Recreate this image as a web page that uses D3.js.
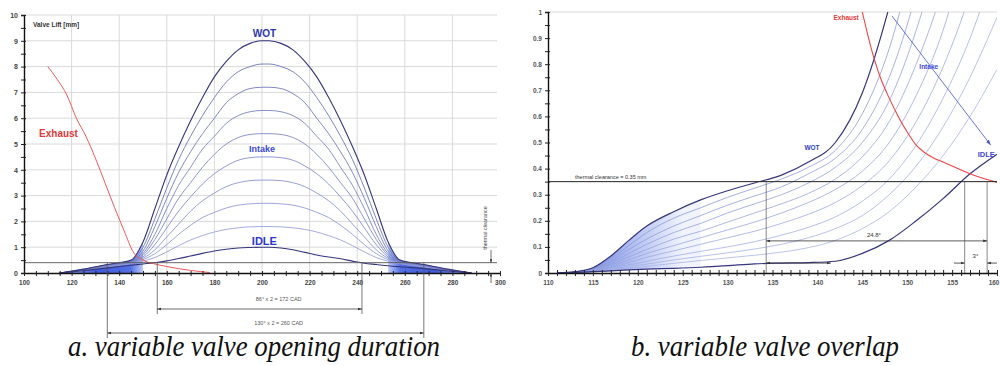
<!DOCTYPE html>
<html><head><meta charset="utf-8">
<script src="https://cdn.jsdelivr.net/npm/d3@7"></script>
<style>body{margin:0;background:#fff} svg{display:block} text.s{font-family:Arial,"Liberation Sans",sans-serif} text.cap{font-family:"Liberation Serif","Times New Roman",serif;font-style:italic}</style>
</head><body><svg id="c" width="1000" height="366"></svg>
<script>
// ---------- LEFT CHART DATA (a. variable valve opening duration) ----------
const leftAngles = [115,125,135,145,150,155,160,165,170,175,180,185,190,195,200,203,208,213,218,223,228,233,238,243,248,253,258,268,278,288];
const liftWOT  = [0,0.15,0.33,0.5,1.2,2.5,3.8,4.9,5.9,6.8,7.6,8.2,8.65,8.9,9.0, 9.0,8.9,8.65,8.2,7.6,6.8,5.9,4.9,3.8,2.5,1.2,0.5,0.33,0.15,0];
const liftC2   = [0,0.14,0.32,0.48,1.0,2.1,3.3,4.4,5.3,6.1,6.8,7.4,7.8,8.0,8.1, 8.1,8.0,7.8,7.4,6.8,6.1,5.3,4.4,3.3,2.1,1.0,0.48,0.32,0.14,0];
const liftC3   = [0,0.13,0.31,0.46,0.85,1.8,2.9,3.9,4.7,5.4,6.0,6.6,6.95,7.15,7.2, 7.2,7.15,6.95,6.6,6.0,5.4,4.7,3.9,2.9,1.8,0.85,0.46,0.31,0.13,0];
const liftC4   = [0,0.12,0.3,0.44,0.75,1.5,2.5,3.4,4.1,4.8,5.3,5.8,6.1,6.25,6.3, 6.3,6.25,6.1,5.8,5.3,4.8,4.1,3.4,2.5,1.5,0.75,0.44,0.3,0.12,0];
const liftC5   = [0,0.12,0.29,0.43,0.68,1.3,2.1,2.9,3.5,4.1,4.6,5.0,5.25,5.37,5.4, 5.4,5.37,5.25,5.0,4.6,4.1,3.5,2.9,2.1,1.3,0.68,0.43,0.29,0.12,0];
const liftC6   = [0,0.11,0.28,0.42,0.62,1.1,1.75,2.4,2.95,3.45,3.85,4.15,4.37,4.47,4.5, 4.5,4.47,4.37,4.15,3.85,3.45,2.95,2.4,1.75,1.1,0.62,0.42,0.28,0.11,0];
const liftC7   = [0,0.1,0.27,0.41,0.57,0.9,1.4,1.9,2.4,2.8,3.1,3.35,3.5,3.58,3.6, 3.6,3.58,3.5,3.35,3.1,2.8,2.4,1.9,1.4,0.9,0.57,0.41,0.27,0.1,0];
const liftC8   = [0,0.1,0.25,0.39,0.52,0.75,1.1,1.5,1.85,2.15,2.35,2.52,2.63,2.68,2.7, 2.7,2.68,2.63,2.52,2.35,2.15,1.85,1.5,1.1,0.75,0.52,0.39,0.25,0.1,0];
const liftC9   = [0,0.1,0.23,0.36,0.46,0.6,0.82,1.06,1.28,1.45,1.59,1.69,1.75,1.79,1.8, 1.8,1.79,1.75,1.69,1.59,1.45,1.28,1.06,0.82,0.6,0.46,0.36,0.23,0.1,0];
const liftIDLE = [0,0.09,0.2,0.3,0.35,0.4,0.47,0.56,0.66,0.76,0.85,0.92,0.97,0.99,1.0, 1.0,0.97,0.9,0.8,0.7,0.62,0.55,0.46,0.38,0.33,0.28,0.24,0.17,0.08,0];
const exhaustLeftAngles = [110,114,118,122,126,130,134,138,142,146,150,155,160,170,178];
const exhaustLeftLift   = [8.0,7.5,6.9,6.0,5.3,4.45,3.5,2.55,1.65,0.8,0.5,0.35,0.25,0.1,0.02];
const leftXTicks = [100,120,140,160,180,200,220,240,260,280,300];
const leftYTicks = [0,1,2,3,4,5,6,7,8,9,10];
const leftClearance = 0.4;
const leftDimWOT = [135,268];
const leftDimIDLE = [156,242];

// ---------- RIGHT CHART DATA (b. variable valve overlap) ----------
const rightAngles = [111,113,115,117,119,121,124,127,130,133,136,139,142,145,148,151,154,157,160];
const rWOT  = [0,0.005,0.02,0.065,0.125,0.18,0.235,0.28,0.315,0.345,0.375,0.425,0.5,0.69,1.02,1.45,1.9,2.4,2.9];
const rI1   = [0,0.004,0.017,0.055,0.105,0.155,0.21,0.25,0.29,0.325,0.36,0.405,0.47,0.61,0.86,1.25,1.7,2.2,2.7];
const rI2   = [0,0.004,0.015,0.045,0.09,0.13,0.18,0.22,0.26,0.295,0.33,0.38,0.44,0.55,0.75,1.07,1.5,2.0,2.5];
const rI3   = [0,0.003,0.013,0.038,0.075,0.11,0.155,0.19,0.23,0.265,0.3,0.345,0.405,0.5,0.66,0.93,1.3,1.8,2.3];
const rI4   = [0,0.003,0.011,0.032,0.062,0.09,0.13,0.16,0.195,0.23,0.265,0.305,0.36,0.445,0.58,0.8,1.1,1.55,2.0];
const rI5   = [0,0.002,0.009,0.026,0.05,0.075,0.105,0.135,0.165,0.195,0.23,0.27,0.32,0.39,0.5,0.68,0.93,1.3,1.7];
const rI6   = [0,0.002,0.007,0.02,0.04,0.06,0.085,0.11,0.135,0.16,0.19,0.225,0.27,0.335,0.43,0.58,0.79,1.07,1.45];
const rI7   = [0,0.002,0.006,0.015,0.03,0.045,0.065,0.083,0.1,0.12,0.145,0.175,0.215,0.275,0.36,0.49,0.67,0.9,1.2];
const rI8   = [0,0.001,0.005,0.012,0.022,0.034,0.05,0.064,0.077,0.092,0.11,0.135,0.17,0.22,0.3,0.41,0.56,0.75,0.98];
const rI9   = [0,0.001,0.004,0.009,0.016,0.025,0.037,0.048,0.058,0.068,0.08,0.097,0.125,0.17,0.235,0.33,0.45,0.6,0.78];
const rIDLE = [0,0.002,0.005,0.008,0.012,0.015,0.018,0.022,0.028,0.035,0.038,0.04,0.045,0.075,0.125,0.2,0.285,0.38,0.455];
const exhaustRightAngles = [145,146,147,148,149,150,151,152,153,154,155,156,157,158,159,160];
const exhaustRightLift   = [1.0,0.86,0.75,0.67,0.6,0.54,0.49,0.46,0.44,0.425,0.41,0.395,0.38,0.368,0.357,0.347];
const rightXTicks = [110,115,120,125,130,135,140,145,150,155,160];
const rightYTicks = [0,0.1,0.2,0.3,0.4,0.5,0.6,0.7,0.8,0.9,1];
const rightClearance = 0.35;
const rightDims = [134.3,156.4,158.9];

// ---------- DRAW ----------
const svg = d3.select('#c');
const defs = svg.append('defs');
defs.append('marker').attr('id','arr').attr('viewBox','0 0 6 4').attr('refX',6).attr('refY',2)
  .attr('markerWidth',5).attr('markerHeight',4).attr('orient','auto-start-reverse')
  .append('path').attr('d','M0,0L6,2L0,4z').attr('fill','#333');
defs.append('marker').attr('id','arrB').attr('viewBox','0 0 6 4').attr('refX',6).attr('refY',2)
  .attr('markerWidth',6).attr('markerHeight',5).attr('orient','auto')
  .append('path').attr('d','M0,0L6,2L0,4z').attr('fill','#4455cc');

const xL = d3.scaleLinear().domain([100,300]).range([24,500]);
const yL = d3.scaleLinear().domain([0,10]).range([273,15]);
const xR = d3.scaleLinear().domain([110,160]).range([548,997]);
const yR = d3.scaleLinear().domain([0,1]).range([273,12]);

defs.append('clipPath').attr('id','clipL').append('rect').attr('x',24).attr('y',15).attr('width',473).attr('height',258);
defs.append('clipPath').attr('id','clipR').append('rect').attr('x',548).attr('y',12).attr('width',449).attr('height',261);

function grad(id,x1,x2,stops){
  const g=defs.append('linearGradient').attr('id',id).attr('gradientUnits','userSpaceOnUse')
    .attr('x1',x1).attr('x2',x2).attr('y1',0).attr('y2',0);
  stops.forEach(([o,c])=>g.append('stop').attr('offset',o).attr('stop-color',c));
}
const lStops=[[0,'#8fa2ee'],[0.45,'#2a48d8'],[0.85,'#3f5fe0'],[1,'#b8c6f6']];
grad('gL',xL(115),xL(150),lStops);
grad('gL2',xL(288),xL(253),lStops);
grad('gR',xR(112),xR(125),[[0,'#2040c8'],[0.35,'#7e94e8'],[1,'#eef1fc']]);

function txt(g,x,y,s,o){
  const t=g.append('text').attr('class','s').attr('x',x).attr('y',y).text(s);
  Object.entries(o||{}).forEach(([k,v])=>t.attr(k,v)); return t;
}

// ===== LEFT =====
const gL = svg.append('g');
gL.append('g').selectAll('line').data(d3.range(1,11)).join('line')
  .attr('x1',xL(100)).attr('x2',497).attr('y1',d=>yL(d)).attr('y2',d=>yL(d)).attr('stroke','#d9d9d9');
gL.append('g').selectAll('line').data(leftXTicks.slice(1,-1)).join('line')
  .attr('x1',d=>xL(d)).attr('x2',d=>xL(d)).attr('y1',yL(10)).attr('y2',yL(0)).attr('stroke','#d9d9d9');

const series = (ang, vals) => ang.map((a,i)=>[a,vals[i]]);
const lineL = d3.line().x(d=>xL(d[0])).y(d=>yL(d[1])).curve(d3.curveMonotoneX);
const plotL = gL.append('g').attr('clip-path','url(#clipL)');

const wotPts = series(leftAngles, liftWOT);
const areaL = d3.area().x(d=>xL(d[0])).y0(yL(0)).y1(d=>yL(d[1])).curve(d3.curveMonotoneX);
plotL.append('path').datum(wotPts.filter(d=>d[0]<=150)).attr('d',areaL).attr('fill','url(#gL)').attr('opacity',0.9);
plotL.append('path').datum(wotPts.filter(d=>d[0]>=253)).attr('d',areaL).attr('fill','url(#gL2)').attr('opacity',0.9);

const midL = [liftC9,liftC8,liftC7,liftC6,liftC5,liftC4,liftC3,liftC2];
midL.forEach((v,i)=>{
  plotL.append('path').datum(series(leftAngles,v)).attr('d',lineL).attr('fill','none')
    .attr('stroke', d3.interpolateRgb('#98a2dc','#6c76b8')(i/7)).attr('stroke-width',0.9);
});
[liftWOT,liftIDLE].forEach(v=>{
  plotL.append('path').datum(series(leftAngles,v)).attr('d',lineL).attr('fill','none')
    .attr('stroke','#35357c').attr('stroke-width',1.1);
});
plotL.append('path').datum(series(exhaustLeftAngles,exhaustLeftLift)).attr('d',lineL).attr('fill','none')
  .attr('stroke','#ee5a5a').attr('stroke-width',1);
gL.append('line').attr('x1',xL(100)).attr('x2',497).attr('y1',yL(leftClearance)).attr('y2',yL(leftClearance))
  .attr('stroke','#555').attr('stroke-width',0.9);

const axLy = gL.append('g').attr('transform',`translate(${xL(100)},0)`)
  .call(d3.axisLeft(yL).tickValues(d3.range(0,10.01,0.5)).tickSize(3).tickFormat(d=>leftYTicks.includes(d)?d:''));
axLy.selectAll('.tick line').attr('x1',2).attr('stroke','#222');
axLy.select('.domain').attr('stroke','#111').attr('stroke-width',1.4);
axLy.selectAll('text').attr('class','s').attr('font-size',7).attr('font-weight','bold').attr('fill','#444').attr('x',-6);
const axLx = gL.append('g').attr('transform',`translate(0,${yL(0)})`)
  .call(d3.axisBottom(xL).tickValues(d3.range(100,300.1,5)).tickSize(3).tickSizeOuter(0).tickFormat(d=>leftXTicks.includes(d)?d:''));
axLx.selectAll('.tick line').attr('y1',-2).attr('stroke','#222');
axLx.select('.domain').attr('stroke','#111').attr('stroke-width',1.6);
axLx.selectAll('text').attr('class','s').attr('font-size',6.5).attr('font-weight','bold').attr('fill','#444').attr('dy','0.9em');

txt(gL,33,27,'Valve Lift [mm]',{'font-size':6.5,'font-weight':'bold',fill:'#333'});
txt(gL,xL(201),37,'WOT',{'font-size':10,'font-weight':'bold',fill:'#2a36b0','text-anchor':'middle'});
txt(gL,xL(200),152,'Intake',{'font-size':9,'font-weight':'bold',fill:'#3a48d0','text-anchor':'middle'});
txt(gL,xL(201),245,'IDLE',{'font-size':11,'font-weight':'bold',fill:'#2a36c8','text-anchor':'middle'});
txt(gL,xL(114.5),137,'Exhaust',{'font-size':10,'font-weight':'bold',fill:'#e03a3a','text-anchor':'middle'});
txt(gL,0,0,'thermal clearance',{'font-size':5.5,fill:'#444','text-anchor':'middle',
  transform:`translate(487,228) rotate(-90)`});
gL.append('line').attr('x1',491).attr('x2',491).attr('y1',250).attr('y2',yL(leftClearance)).attr('stroke','#333').attr('stroke-width',0.7).attr('marker-end','url(#arr)');
gL.append('line').attr('x1',491).attr('x2',491).attr('y1',283).attr('y2',yL(0)).attr('stroke','#333').attr('stroke-width',0.7).attr('marker-end','url(#arr)');

leftDimWOT.forEach(a=>gL.append('line').attr('x1',xL(a)).attr('x2',xL(a)).attr('y1',yL(leftClearance)).attr('y2',338).attr('stroke','#555').attr('stroke-width',0.8));
leftDimIDLE.forEach(a=>gL.append('line').attr('x1',xL(a)).attr('x2',xL(a)).attr('y1',yL(leftClearance)).attr('y2',314).attr('stroke','#555').attr('stroke-width',0.8));
gL.append('line').attr('x1',xL(leftDimIDLE[0])).attr('x2',xL(leftDimIDLE[1])).attr('y1',309).attr('y2',309)
  .attr('stroke','#444').attr('stroke-width',0.8).attr('marker-start','url(#arr)').attr('marker-end','url(#arr)');
gL.append('line').attr('x1',xL(leftDimWOT[0])).attr('x2',xL(leftDimWOT[1])).attr('y1',333).attr('y2',333)
  .attr('stroke','#444').attr('stroke-width',0.8).attr('marker-start','url(#arr)').attr('marker-end','url(#arr)');
txt(gL,xL(207),301,'86° x 2 = 172 CAD',{'font-size':5.5,fill:'#555','text-anchor':'middle'});
txt(gL,xL(207),325,'130° x 2 = 260 CAD',{'font-size':5.5,fill:'#555','text-anchor':'middle'});

// ===== RIGHT =====
const gR = svg.append('g');
gR.append('line').attr('x1',xR(110)).attr('x2',xR(160)).attr('y1',yR(1)).attr('y2',yR(1)).attr('stroke','#d9d9d9');
const lineR = d3.line().x(d=>xR(d[0])).y(d=>yR(d[1])).curve(d3.curveMonotoneX);
const plotR = gR.append('g').attr('clip-path','url(#clipR)');
const fillPts = rightAngles.map((a,i)=>[a,rWOT[i],rIDLE[i]]).filter(d=>d[0]<=127);
plotR.append('path').datum(fillPts)
  .attr('d',d3.area().x(d=>xR(d[0])).y0(d=>yR(d[2])).y1(d=>yR(d[1])).curve(d3.curveMonotoneX))
  .attr('fill','url(#gR)').attr('opacity',0.85);
const midR=[rI9,rI8,rI7,rI6,rI5,rI4,rI3,rI2,rI1];
midR.forEach((v,i)=>{
  plotR.append('path').datum(series(rightAngles,v)).attr('d',lineR).attr('fill','none')
    .attr('stroke',d3.interpolateRgb('#aab4e6','#8e9ad8')(i/8)).attr('stroke-width',0.8);
});
[rWOT,rIDLE].forEach(v=>{
  plotR.append('path').datum(series(rightAngles,v)).attr('d',lineR).attr('fill','none')
    .attr('stroke','#35357c').attr('stroke-width',1.2);
});
plotR.append('path').datum(series(exhaustRightAngles,exhaustRightLift)).attr('d',lineR).attr('fill','none')
  .attr('stroke','#ee4444').attr('stroke-width',1.1);
gR.append('line').attr('x1',xR(110)).attr('x2',xR(160)).attr('y1',yR(rightClearance)).attr('y2',yR(rightClearance))
  .attr('stroke','#222').attr('stroke-width',1);
txt(gR,575,179,'thermal clearance = 0.35 mm',{'font-size':5.5,fill:'#333'});

rightDims.forEach(a=>gR.append('line').attr('x1',xR(a)).attr('x2',xR(a)).attr('y1',yR(rightClearance)).attr('y2',yR(0)).attr('stroke','#555').attr('stroke-width',0.7));
gR.append('line').attr('x1',xR(rightDims[0])).attr('x2',xR(rightDims[2])).attr('y1',yR(0.123)).attr('y2',yR(0.123))
  .attr('stroke','#333').attr('stroke-width',0.8).attr('marker-start','url(#arr)').attr('marker-end','url(#arr)');
txt(gR,xR(146.3),yR(0.138),'24.8°',{'font-size':6,fill:'#333','text-anchor':'middle'});
gR.append('line').attr('x1',xR(rightDims[0])).attr('x2',xR(141.5)).attr('y1',yR(0.038)).attr('y2',yR(0.038))
  .attr('stroke','#333').attr('stroke-width',0.8).attr('marker-start','url(#arr)').attr('marker-end','url(#arr)');
gR.append('line').attr('x1',xR(155.2)).attr('x2',xR(rightDims[1])).attr('y1',yR(0.038)).attr('y2',yR(0.038))
  .attr('stroke','#333').attr('stroke-width',0.8).attr('marker-end','url(#arr)');
gR.append('line').attr('x1',xR(160)).attr('x2',xR(rightDims[2])).attr('y1',yR(0.038)).attr('y2',yR(0.038))
  .attr('stroke','#333').attr('stroke-width',0.8).attr('marker-end','url(#arr)');
txt(gR,xR(157.6),yR(0.058),'3°',{'font-size':6,fill:'#333','text-anchor':'middle'});

const axRy = gR.append('g').attr('transform',`translate(${xR(110)},0)`)
  .call(d3.axisLeft(yR).tickValues(d3.range(0,1.001,0.05)).tickSize(3).tickFormat((d,i)=>i%2===0?d3.format('~g')(Math.round(d*10)/10):''));
axRy.selectAll('.tick line').attr('x1',2).attr('stroke','#222');
axRy.select('.domain').attr('stroke','#111').attr('stroke-width',1.4);
axRy.selectAll('text').attr('class','s').attr('font-size',6.5).attr('font-weight','bold').attr('fill','#555').attr('x',-6);
const axRx = gR.append('g').attr('transform',`translate(0,${yR(0)})`)
  .call(d3.axisBottom(xR).tickValues(d3.range(110,160.1,1)).tickSize(3).tickSizeOuter(0).tickFormat(d=>rightXTicks.includes(d)?d:''));
axRx.selectAll('.tick line').attr('y1',-3).attr('stroke','#222');
axRx.select('.domain').attr('stroke','#111').attr('stroke-width',1.4);
axRx.selectAll('text').attr('class','s').attr('font-size',6.5).attr('font-weight','bold').attr('fill','#555').attr('dy','0.9em');
axRx.selectAll('.tick').filter(d=>d===160).select('text').attr('text-anchor','end').attr('dx',2);

txt(gR,xR(139.4),150,'WOT',{'font-size':6.5,'font-weight':'bold',fill:'#3040b8','text-anchor':'middle'});
txt(gR,xR(152.4),69,'Intake',{'font-size':6.5,'font-weight':'bold',fill:'#3a48d0','text-anchor':'middle'});
txt(gR,xR(158.8),157,'IDLE',{'font-size':7.5,'font-weight':'bold',fill:'#3a48d0','text-anchor':'middle'});
txt(gR,xR(143.2),20,'Exhaust',{'font-size':6.5,'font-weight':'bold',fill:'#e03a3a','text-anchor':'middle'});
gR.append('line').attr('x1',xR(148.3)).attr('y1',yR(0.985)).attr('x2',xR(159.3)).attr('y2',yR(0.49))
  .attr('stroke','#5566cc').attr('stroke-width',0.9).attr('marker-end','url(#arrB)');

// captions
svg.append('text').attr('class','cap').attr('x',254).attr('y',356).attr('font-size',30).attr('fill','#111')
  .attr('text-anchor','middle').attr('textLength',372).attr('lengthAdjust','spacingAndGlyphs')
  .text('a. variable valve opening duration');
svg.append('text').attr('class','cap').attr('x',765).attr('y',356).attr('font-size',30).attr('fill','#111')
  .attr('text-anchor','middle').attr('textLength',268).attr('lengthAdjust','spacingAndGlyphs')
  .text('b. variable valve overlap');
</script></body></html>
